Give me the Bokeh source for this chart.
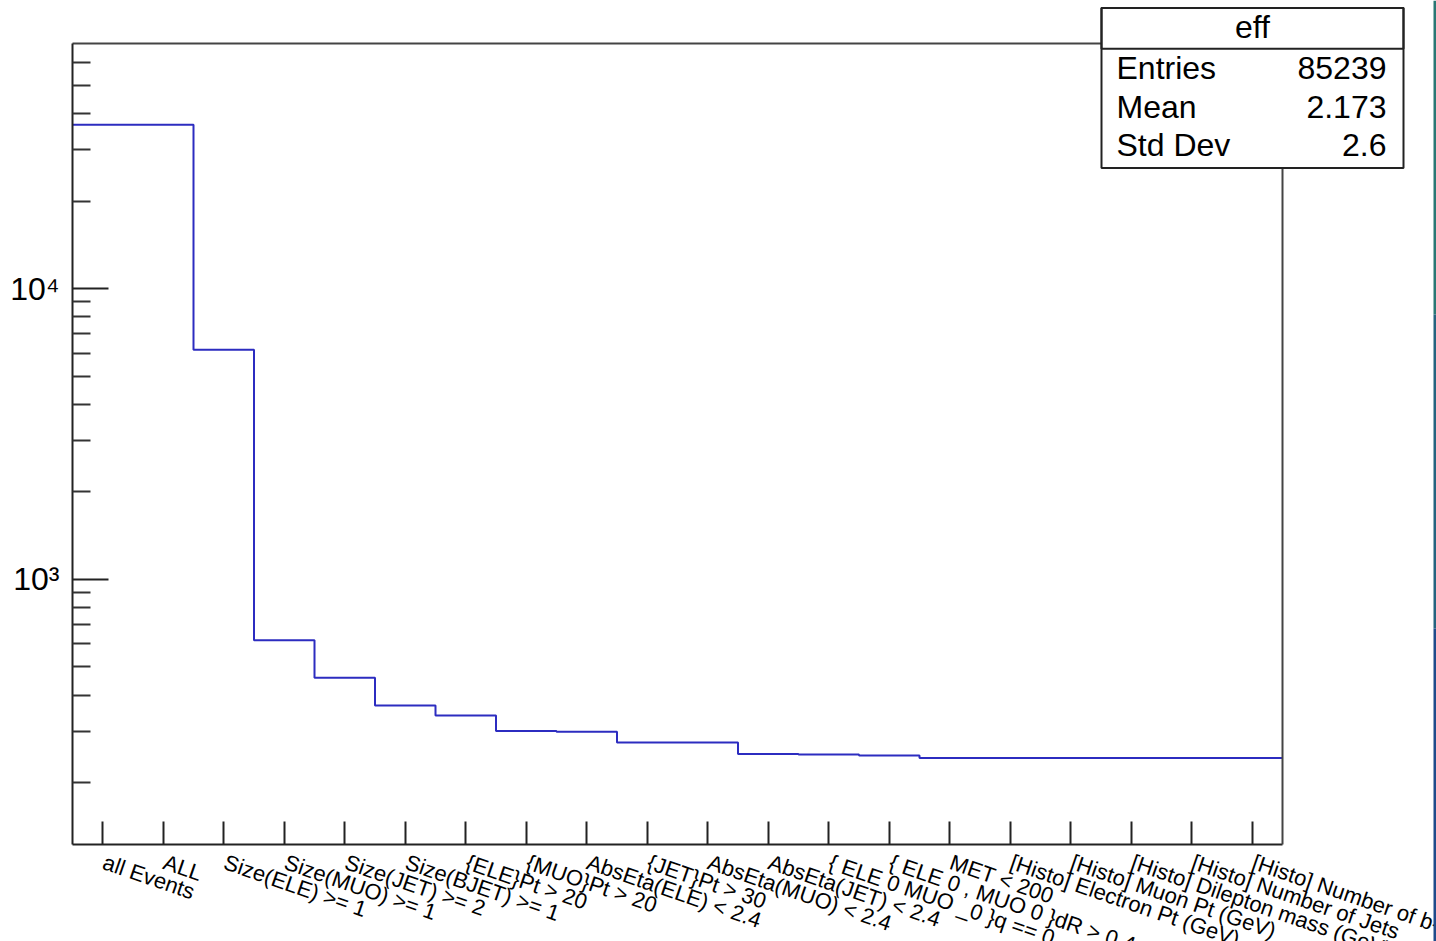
import math
from bokeh.plotting import figure
from bokeh.core.properties import value
from bokeh.models import (Range1d, FixedTicker, Label, LabelSet, BoxAnnotation,
                          LinearAxis, LogAxis, ColumnDataSource, CustomJSTickFormatter)
from bokeh.embed import file_html
from bokeh.resources import INLINE

# ---- data ----
cut_labels = [
    "all Events", "ALL", "Size(ELE) >= 1", "Size(MUO) >= 1", "Size(JET) >= 2",
    "Size(BJET) >= 1", "{ELE}Pt > 20", "{MUO}Pt > 20", "AbsEta(ELE) < 2.4",
    "{JET}Pt > 30", "AbsEta(MUO) < 2.4", "AbsEta(JET) < 2.4",
    "{ ELE 0 MUO _0 }q == 0", "{ ELE 0 , MUO 0 }dR > 0.4", "MET < 200",
    "[Histo] Electron Pt (GeV)", "[Histo] Muon Pt (GeV)",
    "[Histo] Dilepton mass (GeV)", "[Histo] Number of Jets", "[Histo] Number of b-Jets",
]
counts = [36600, 36600, 6170, 618, 459, 368, 340, 301, 299, 275,
          275, 251, 250, 248, 243, 243, 243, 243, 243, 243]
y_min, y_max = 122.5, 69700
y_major_ticks = [1000, 10000]
y_major_labels = ["10\u00b3", "10\u2074"]
y_minor_ticks = [200, 300, 400, 500, 600, 700, 800, 900,
                 2000, 3000, 4000, 5000, 6000, 7000, 8000, 9000,
                 20000, 30000, 40000, 50000, 60000]
stats_title = "eff"
stats_names = ["Entries", "Mean", "Std Dev"]
stats_values = ["85239", "2.173", "2.6"]

# ---- layout (pixels) ----
W, H = 1436, 941
FL, FR, FT, FB = 72, 1282, 43, 844      # ROOT frame box on the canvas
FONT = "Liberation Sans"
AX = "#222222"

n_bins = len(counts)
edges = list(range(n_bins + 1))
centers = [i + 0.5 for i in range(n_bins)]

# ranges chosen so that the histogram frame sits at FL..FR / FT..FB
xpp = n_bins / (FR - FL)
lpp = (math.log10(y_max) - math.log10(y_min)) / (FB - FT)
x_rng = Range1d(0 - FL * xpp, n_bins + (W - FR) * xpp)
y_rng = Range1d(10 ** (math.log10(y_min) - (H - FB) * lpp),
                10 ** (math.log10(y_max) + FT * lpp))

p = figure(width=W, height=H, x_range=x_rng, y_range=y_rng,
           y_axis_type="log", output_backend="svg", toolbar_location=None,
           min_border=0, min_border_left=0, min_border_right=0,
           min_border_top=0, min_border_bottom=0)
p.grid.visible = False
p.outline_line_color = None
p.background_fill_color = "white"
p.border_fill_color = "white"

# bottom axis (ticks at bin centres; bin names drawn by a LabelSet below)
xa = p.xaxis[0]
xa.fixed_location = y_min
xa.bounds = (0, n_bins)
xa.ticker = FixedTicker(ticks=centers)
xa.formatter = CustomJSTickFormatter(code="return ''")
xa.major_tick_in = 23
xa.major_tick_out = 0
xa.minor_tick_line_color = None
xa.axis_line_width = 2
xa.axis_line_color = AX
xa.major_tick_line_width = 2
xa.major_tick_line_color = AX

label_src = ColumnDataSource(dict(x=centers, y=[y_min] * n_bins, text=cut_labels))
p.add_layout(LabelSet(x="x", y="y", text="text", source=label_src,
                      x_offset=1, y_offset=-17,
                      angle=-19, angle_units="deg",
                      text_align="left", text_baseline="middle",
                      text_font=value(FONT), text_font_size="22px",
                      text_color="black"))

# left log axis
ya = p.yaxis[0]
ya.fixed_location = 0
ya.bounds = (y_min, y_max)
ya.ticker = FixedTicker(ticks=y_major_ticks, minor_ticks=y_minor_ticks)
ya.major_label_overrides = dict(zip(y_major_ticks, y_major_labels))
ya.major_tick_in = 36
ya.major_tick_out = 0
ya.minor_tick_in = 18
ya.minor_tick_out = 0
ya.axis_line_width = 2
ya.axis_line_color = AX
ya.major_tick_line_width = 2
ya.minor_tick_line_width = 2
ya.major_tick_line_color = AX
ya.minor_tick_line_color = "#333333"
ya.major_label_text_font = FONT
ya.major_label_text_font_size = "32px"
ya.major_label_text_color = "black"
ya.major_label_standoff = 13

# top and right frame edges
top_ax = LinearAxis(fixed_location=y_max, bounds=(0, n_bins),
                    ticker=FixedTicker(ticks=[]), major_label_text_font_size="0px",
                    axis_line_width=2, axis_line_color="#444444",
                    major_tick_line_color=None, minor_tick_line_color=None)
right_ax = LogAxis(fixed_location=n_bins, bounds=(y_min, y_max),
                   ticker=FixedTicker(ticks=[]), major_label_text_font_size="0px",
                   axis_line_width=2, axis_line_color="#444444",
                   major_tick_line_color=None, minor_tick_line_color=None)
p.add_layout(top_ax, "above")
p.add_layout(right_ax, "right")

# histogram outline
p.step(x=edges, y=counts + [counts[-1]], mode="after",
       line_color="#2c2cc0", line_width=2)

# stats box (canvas units)
def cbox(top, bottom, fill_alpha):
    return BoxAnnotation(left=1101, right=1403, top=top, bottom=bottom,
                         left_units="canvas", right_units="canvas",
                         top_units="canvas", bottom_units="canvas",
                         fill_color="white", fill_alpha=fill_alpha,
                         line_color=AX, line_width=2, line_alpha=1.0,
                         level="overlay")

p.add_layout(cbox(7.5, 167.5, 1.0))
p.add_layout(cbox(7.5, 48.3, 0.0))
p.add_layout(Label(x=1252, y=26, x_units="canvas", y_units="canvas",
                   text=stats_title, text_align="center", text_baseline="middle",
                   text_font=FONT, text_font_size="32px", text_color="black",
                   level="overlay"))
row_y = [67, 106, 144]
for yy, name, val in zip(row_y, stats_names, stats_values):
    p.add_layout(Label(x=1116, y=yy, x_units="canvas", y_units="canvas",
                       text=name, text_align="left", text_baseline="middle",
                       text_font=FONT, text_font_size="32px", text_color="black",
                       level="overlay"))
    p.add_layout(Label(x=1386, y=yy, x_units="canvas", y_units="canvas",
                       text=val, text_align="right", text_baseline="middle",
                       text_font=FONT, text_font_size="32px", text_color="black",
                       level="overlay"))

# thin window-edge strip seen at the right border of the reference
for (t, b, col) in [(0, 314, "#2a7774"), (314, 628, "#25637f"), (628, 941, "#1f4b8b")]:
    p.add_layout(BoxAnnotation(left=1433, right=1436, top=t, bottom=b,
                               left_units="canvas", right_units="canvas",
                               top_units="canvas", bottom_units="canvas",
                               fill_color=col, fill_alpha=1.0, line_color=None,
                               level="overlay"))

open("out.html", "w").write(file_html(p, INLINE))
